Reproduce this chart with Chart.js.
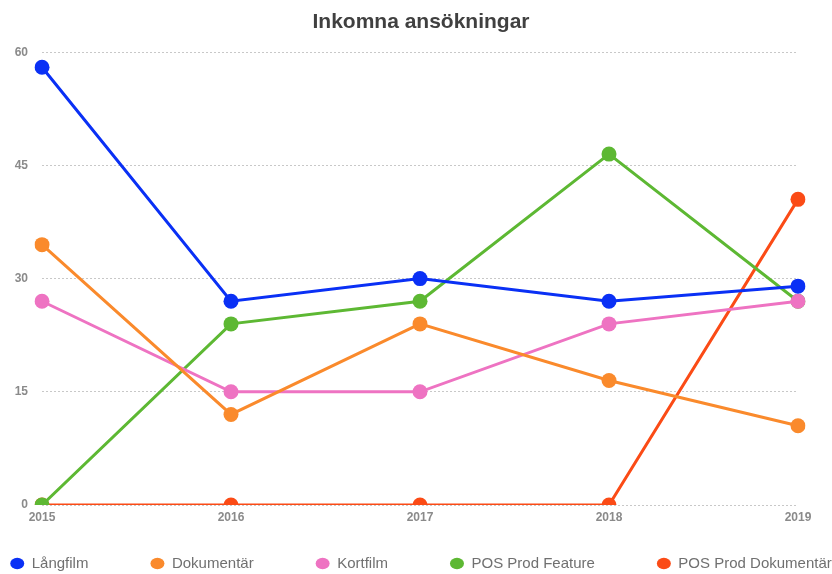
<!DOCTYPE html>
<html>
<head>
<meta charset="utf-8">
<script src="https://cdn.jsdelivr.net/npm/chart.js@4"></script>
<style>
  html, body { margin: 0; padding: 0; background: #fff; }
  #wrap { width: 832px; height: 574px; }
</style>
</head>
<body>
<div id="wrap"><canvas id="progress"></canvas></div>
<script>
// data
let years = ['2015', '2016', '2017', '2018', '2019'];
let yTicks = [0, 15, 30, 45, 60];
let langfilm = [58, 27, 30, 27, 29];
let dokumentar = [34.5, 12, 24, 16.5, 10.5];
let kortfilm = [27, 15, 15, 24, 27];
let posFeature = [0, 24, 27, 46.5, 27];
let posDokumentar = [0, 0, 0, 0, 40.5];

let names = ['Långfilm', 'Dokumentär', 'Kortfilm', 'POS Prod Feature', 'POS Prod Dokumentär'];
let colors = ['#0a30f5', '#fa8a2c', '#ee73c2', '#5db833', '#fb4b16'];
let series = [langfilm, dokumentar, kortfilm, posFeature, posDokumentar];

let Line;
let legendGap = 62;

// the legend uses its padding for both the gap between items and the space above them,
// so keep the wide gap but squeeze the box height
let legendSqueeze = {
    id: 'legendSqueeze',
    beforeLayout(chart){
        let lg = chart.legend;
        if(!lg || lg._squeezed) return;
        lg._squeezed = true;
        let fit = lg.fit;
        lg.fit = function(){ fit.call(this); this.height = 26; };
        let draw = lg.draw;
        lg.draw = function(){
            let t = this.top;
            this.top = t - legendGap + 8;
            draw.call(this);
            this.top = t;
        };
    }
};

(function(){
    let cxt = document.getElementById('progress');
    drawLine(cxt);
})();

function drawLine(cxt){
    if(Line){
        Line.destroy();
    }
    let datasets = [];
    for(let i=0;i<series.length;i++){
        datasets.push({
            label: names[i],
            data: series[i],
            fill: false,
            borderColor: colors[i],
            backgroundColor: colors[i],
            borderWidth: 3,
            pointRadius: 7.5,
            pointHoverRadius: 7.5,
            pointBorderWidth: 0,
            tension: 0
        });
    }
    let tickFont = { family: 'Liberation Sans, Arial, sans-serif', size: 12, weight: 'bold' };
    let padL = 59, padR = 69;
    Line = new Chart(cxt, {
        type: 'line',
        data: { labels: years, datasets: datasets },
        plugins: [legendSqueeze],
        options: {
            responsive: true,
            maintainAspectRatio: false,
            animation: false,
            layout: { padding: { left: -padL, right: -padR, top: 0, bottom: 0 } },
            plugins: {
                title: {
                    display: true,
                    text: 'Inkomna ansökningar',
                    color: '#404040',
                    font: { family: 'Liberation Sans, Arial, sans-serif', size: 21, weight: 'bold' },
                    padding: { top: 10, bottom: 17 }
                },
                legend: {
                    position: 'bottom',
                    labels: {
                        usePointStyle: true,
                        pointStyle: 'circle',
                        pointStyleWidth: 14,
                        boxWidth: 8,
                        boxHeight: 8,
                        padding: legendGap,
                        color: '#707070',
                        font: { family: 'Liberation Sans, Arial, sans-serif', size: 15 }
                    }
                },
                tooltip: { enabled: false }
            },
            scales: {
                x: {
                    offset: false,
                    grid: { display: false, drawTicks: false },
                    border: { display: false },
                    ticks: { color: '#8a8a8a', font: tickFont, padding: 5, maxRotation: 0 },
                    afterFit: function(s){ s.paddingRight = 34; s.height = 43; }
                },
                y: {
                    min: 0,
                    max: 60,
                    afterBuildTicks: function(s){ s.ticks = yTicks.map(v => ({ value: v })); },
                    afterFit: function(s){ s.width = 42 + padL; },
                    grid: { color: '#c8c8c8', lineWidth: 1, drawTicks: false },
                    border: { display: false, dash: [2, 2] },
                    ticks: { color: '#8a8a8a', font: tickFont, padding: 14 }
                }
            }
        }
    });
}
</script>
</body>
</html>
